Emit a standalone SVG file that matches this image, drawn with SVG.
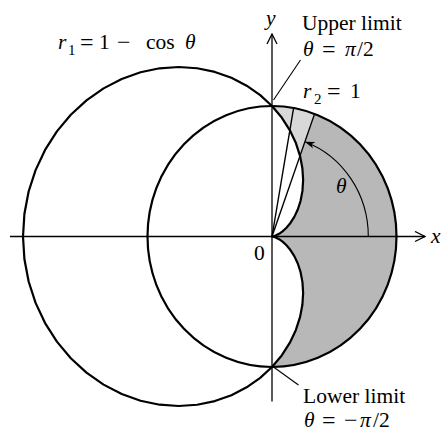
<svg xmlns="http://www.w3.org/2000/svg" width="443" height="433" viewBox="0 0 443 433">
<style>
.t{font-family:"Liberation Serif","Times New Roman",serif;font-size:21.5px;fill:#000}
.i{font-style:italic}
.sub{font-size:15px}
.eq{font-size:24px}
.curve{fill:none;stroke:#000;stroke-width:2.2;stroke-linejoin:round}
.axis{fill:none;stroke:#000;stroke-width:1.3}
.ray{fill:none;stroke:#000;stroke-width:1.4}
.lead{fill:none;stroke:#000;stroke-width:1.1}
</style>
<defs>
<marker id="chev" viewBox="0 0 12 12" refX="11" refY="6" markerWidth="12" markerHeight="12" markerUnits="userSpaceOnUse" orient="auto">
<path d="M1,1 L11,6 L1,11" fill="none" stroke="#000" stroke-width="1.3"/>
</marker>
<marker id="arr" viewBox="0 0 10 8" refX="10" refY="4" markerWidth="10" markerHeight="8" markerUnits="userSpaceOnUse" orient="auto">
<path d="M0,0.5 L10,4 L0,7.5 L3,4 Z" fill="#000"/>
</marker>
</defs>
<g id="shading">
<path id="region" fill="#b8b8b8" d="M272,106 A124.5,130.5 0 0 1 272,367 L281.91,355.17 289.87,342.70 295.88,329.93 300.02,317.19 302.38,304.79 303.13,293.01 302.45,282.08 300.59,272.21 297.78,263.53 294.31,256.13 290.44,250.04 286.45,245.24 282.57,241.67 279.06,239.19 276.10,237.65 273.86,236.84 272.47,236.54 272,236.5 272.47,236.46 273.86,236.16 276.10,235.35 279.06,233.81 282.57,231.33 286.45,227.76 290.44,222.96 294.31,216.87 297.78,209.47 300.59,200.79 302.45,190.92 303.13,179.99 302.38,168.21 300.02,155.81 295.88,143.07 289.87,130.30 281.91,117.83 Z"/>
<path id="wedge" fill="#d8d8d8" d="M272,106 A124.5,130.5 0 0 1 314.58,113.87 L300.02,155.81 295.88,143.07 289.87,130.30 281.91,117.83 Z"/>
</g>
<g id="circle-r2">
<ellipse class="curve" cx="272" cy="236.5" rx="124.5" ry="130.5"/>
</g>
<g id="cardioid-r1">
<path class="curve" d="M272,106 L260.20,95.17 246.63,85.67 231.44,77.82 214.85,71.93 197.15,68.24 178.63,66.98 159.63,68.29 140.53,72.27 121.71,78.97 103.57,88.36 86.47,100.33 70.80,114.74 56.90,131.36 45.07,149.92 35.58,170.10 28.64,191.52 24.42,213.80 23,236.5 24.42,259.20 28.64,281.48 35.58,302.90 45.07,323.08 56.90,341.64 70.80,358.26 86.47,372.67 103.57,384.64 121.71,394.03 140.53,400.73 159.63,404.71 178.63,406.02 197.15,404.76 214.85,401.07 231.44,395.18 246.63,387.33 260.20,377.83 272,367 281.91,355.17 289.87,342.70 295.88,329.93 300.02,317.19 302.38,304.79 303.13,293.01 302.45,282.08 300.59,272.21 297.78,263.53 294.31,256.13 290.44,250.04 286.45,245.24 282.57,241.67 279.06,239.19 276.10,237.65 273.86,236.84 272.47,236.54 272,236.5 272.47,236.46 273.86,236.16 276.10,235.35 279.06,233.81 282.57,231.33 286.45,227.76 290.44,222.96 294.31,216.87 297.78,209.47 300.59,200.79 302.45,190.92 303.13,179.99 302.38,168.21 300.02,155.81 295.88,143.07 289.87,130.30 281.91,117.83 Z"/>
</g>
<g id="connectors">
<line class="axis" x1="10" y1="236.5" x2="425" y2="236.5" marker-end="url(#chev)"/>
<line class="axis" x1="272" y1="401.5" x2="272" y2="34" marker-end="url(#chev)"/>
<line class="ray" x1="272" y1="236.5" x2="293.62" y2="107.98"/>
<line class="ray" x1="272" y1="236.5" x2="314.58" y2="113.87"/>
<path class="lead" d="M368.3,236.5 A96.3,100.9 0 0 0 304.94,141.68" marker-end="url(#arr)"/>
<line class="lead" x1="273.5" y1="100" x2="300.5" y2="60"/>
<line class="lead" x1="273.5" y1="367" x2="298.5" y2="385"/>
</g>
<g id="labels">
<text class="t i" x="266" y="25">y</text>
<text class="t i" x="431" y="243">x</text>
<text class="t" x="254" y="260">0</text>
<text class="t i" x="336" y="193">θ</text>
<text class="t"><tspan class="i" x="58" y="49">r</tspan><tspan class="sub" x="68" y="55">1</tspan><tspan class="eq" x="80" y="50">=</tspan><tspan x="99" y="49">1</tspan><tspan class="eq" x="117" y="50">−</tspan><tspan x="146" y="49">cos</tspan><tspan class="i" x="185" y="49">θ</tspan></text>
<text class="t" x="302" y="30">Upper limit</text>
<text class="t"><tspan class="i" x="303" y="56">θ</tspan><tspan class="eq" x="322" y="57">=</tspan><tspan class="i" x="345" y="56">π</tspan><tspan x="357" y="56">/2</tspan></text>
<text class="t"><tspan class="i" x="303" y="98">r</tspan><tspan class="sub" x="314" y="104">2</tspan><tspan class="eq" x="327" y="99">=</tspan><tspan x="350" y="98">1</tspan></text>
<text class="t" x="303" y="403">Lower limit</text>
<text class="t"><tspan class="i" x="304" y="427">θ</tspan><tspan class="eq" x="322" y="428">=</tspan><tspan class="eq" x="344" y="428">−</tspan><tspan class="i" x="360" y="427">π</tspan><tspan x="373" y="427">/2</tspan></text>
</g>
</svg>
